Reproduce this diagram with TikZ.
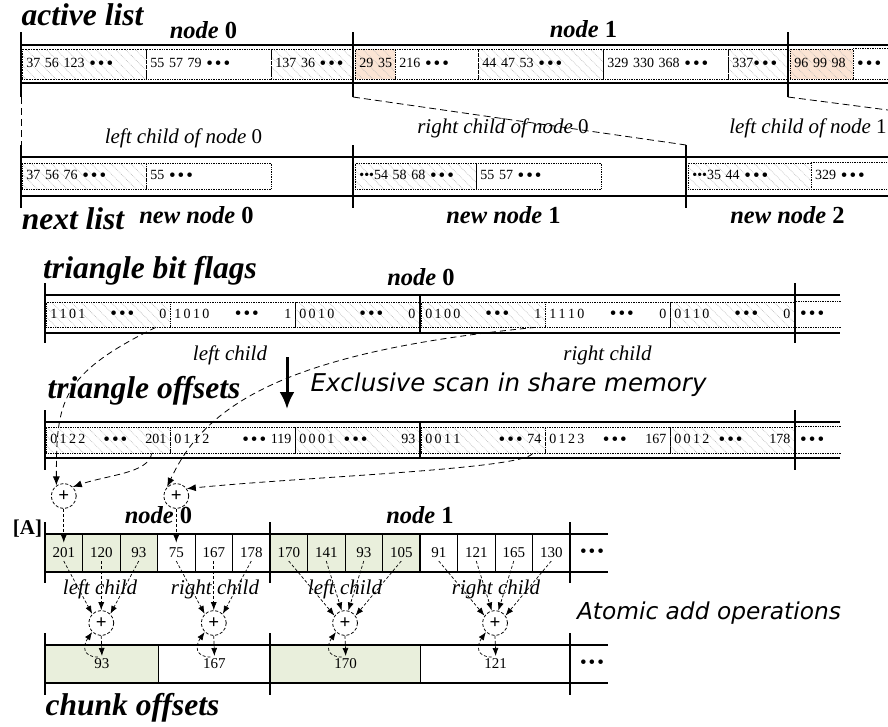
\documentclass[tikz,border=0pt]{standalone}
\usepackage{fontspec}
\setmainfont{Liberation Serif}
\newfontfamily\notefont{DejaVu Sans}
\usetikzlibrary{positioning,patterns.meta,arrows.meta}

\definecolor{peach}{RGB}{251,228,212}
\definecolor{sage}{RGB}{233,239,220}
\definecolor{hatchgray}{RGB}{186,186,186}

\newcommand{\ellip}{\raisebox{-1.5pt}{\fontsize{19}{19}\selectfont\textbullet\kern2pt\textbullet\kern2pt\textbullet}}
\newcommand{\dotrun}{\textbullet\textbullet\textbullet}

\begin{document}
\begin{tikzpicture}[x=1pt,y=1pt,
title/.style={font=\fontsize{31.5}{33}\selectfont\bfseries\itshape},
head/.style={font=\fontsize{24.5}{26}\selectfont\bfseries},
child/.style={font=\fontsize{21}{23}\selectfont\itshape},
note/.style={font=\notefont\itshape\fontsize{#1}{#1}\selectfont},
bar/.style={line width=2.8pt},
sep/.style={line width=2pt},
cellw/.code={\pgfmathsetmacro\cellwd{#1-8}\tikzset{text width=\cellwd pt}},
cellbox/.style 2 args={anchor=west,cellw=#1,minimum height=#2,inner xsep=4pt,inner ysep=0pt,
    text height=10pt,text depth=3pt,font=\fontsize{14}{16}\selectfont},
wcell/.style 2 args={cellbox={#1}{#2},draw,densely dotted,line width=0.7pt},
hcell/.style 2 args={wcell={#1}{#2},pattern={Lines[angle=-45,distance=7pt,line width=0.6pt]},pattern color=hatchgray},
ocell/.style 2 args={hcell={#1}{#2},preaction={fill=peach}},
ecell/.style 2 args={cellbox={#1}{#2}},
dline/.style={densely dotted,line width=0.7pt},
acell/.style={draw,line width=0.8pt,minimum width=37.5pt,minimum height=38pt,inner sep=0pt,font=\fontsize{15}{17}\selectfont},
kcell/.style={anchor=west,draw,line width=1.4pt,minimum height=38pt,inner sep=0pt,font=\fontsize{15}{17}\selectfont},
adder/.style={circle,draw,dash pattern=on 3pt off 2pt,line width=0.8pt,minimum size=25pt,inner sep=0pt,font=\fontsize{19}{19}\selectfont\bfseries},
link/.style={dash pattern=on 6pt off 4pt,line width=0.8pt,-{Latex[length=9pt,width=7pt]}},
feed/.style={dash pattern=on 3pt off 2pt,line width=0.7pt,-{Latex[length=8pt,width=6pt]}},
guide/.style={dash pattern=on 7pt off 4pt,line width=0.8pt}]
\useasboundingbox (0,0) rectangle (888,-726);
\clip (0,0) rectangle (888,-726);

% active list
\node[title] (tact) at (82.5,-15) {active list};
\node[head] (hact0) at (203.5,-30) {\textit{node} 0};
\node[head] (hact1) at (583.5,-29) {\textit{node} 1};
\node[hcell={124}{30}] (al1) at (22,-64) {37 56 123 \ellip};
\node[wcell={125}{30}] (al2) at (146,-64) {55 57 79 \ellip};
\node[hcell={81}{30}] (al3) at (271,-64) {137 36 \ellip};
\node[ocell={40}{30}] (al4) at (355,-64) {\mbox{29 35}};
\node[wcell={83}{30}] (al5) at (395,-64) {216 \ellip};
\node[hcell={125}{30}] (al6) at (478,-64) {44 47 53 \ellip};
\node[wcell={125}{30}] (al7) at (603,-64) {329 330 368 \ellip};
\node[hcell={62}{30}] (al8) at (728,-64) {337\ellip};
\node[ocell={63}{30}] (al9) at (790,-64) {96 99 98};
\node[ecell={40}{30}] (al10) at (853,-64) {\ellip};
\draw[dline] (al10.north west) -- (al10.north east) (al10.south west) -- (al10.south east);
\draw[bar] (21,-45) -- (888,-45) (21,-83) -- (888,-83);
\foreach \x [count=\i] in {21,353,788}
  \draw[bar] (\x,-32) -- (\x,-97) coordinate (ab\i);

% next list
\node[child] (lc0) at (183.5,-138.5) {left child of node \textup{0}};
\node[child] (rc0) at (503,-128) {right child of node \textup{0}};
\node[child] (lc1) at (808,-128) {left child of node \textup{1}};
\node[hcell={124}{26}] (nl1) at (22,-176) {37 56 76 \ellip};
\node[wcell={125}{26}] (nl2) at (146,-176) {55 \ellip};
\node[hcell={121}{26}] (nl3) at (355,-176) {\dotrun54 58 68 \ellip};
\node[wcell={125}{26}] (nl4) at (476,-176) {55 57 \ellip};
\node[hcell={123}{26}] (nl5) at (688,-176) {\dotrun35 44 \ellip};
\node[ecell={80}{26}] (nl6) at (811,-176) {329 \ellip};
\draw[dline] (nl6.north west) -- (nl6.north east) (nl6.south west) -- (nl6.south east);
\draw[bar] (21,-157) -- (888,-157) (21,-196) -- (888,-196);
\foreach \x [count=\i] in {21,353,686}
  \draw[bar] (\x,-145) coordinate (nt\i) -- (\x,-208);
\coordinate (nt5) at (1157,-145);
\draw[guide] (ab1) -- (nt1);
\draw[guide] (ab2) -- (nt3);
\draw[guide] (ab3) -- (nt5);
\node[title] (tnext) at (73,-219) {next list};
\node[head] (nn0) at (196.5,-215.5) {\textit{new node} 0};
\node[head] (nn1) at (503.5,-215.5) {\textit{new node} 1};
\node[head] (nn2) at (787.5,-215.5) {\textit{new node} 2};

% triangle bit flags
\node[title] (tflag) at (150,-271) {triangle bit flags};
\node[head] (hflag) at (421,-277) {\textit{node} 0};
\node[hcell={124}{25}] (f1) at (46,-314.5) {1\,1\,0\,1\hfill\ellip\hfill0\hspace*{6pt}};
\node[wcell={125}{25}] (f2) at (170,-314.5) {1\,0\,1\,0\hfill\ellip\hfill1\hspace*{6pt}};
\node[hcell={124}{25}] (f3) at (295,-314.5) {0\,0\,1\,0\hfill\ellip\hfill0\hspace*{6pt}};
\node[hcell={124}{25}] (f4) at (421,-314.5) {0\,1\,0\,0\hfill\ellip\hfill1\hspace*{6pt}};
\node[wcell={125}{25}] (f5) at (545,-314.5) {1\,1\,1\,0\hfill\ellip\hfill0\hspace*{4pt}};
\node[hcell={124}{25}] (f6) at (670,-314.5) {0\,1\,1\,0\hfill\ellip\hfill0\hspace*{3pt}};
\node[ecell={44}{25}] (f7) at (796,-314.5) {\ellip};
\draw[dline] (f7.north west) -- (f7.north east) (f7.south west) -- (f7.south east);
\draw[bar] (45,-295) -- (840,-295) (45,-333) -- (840,-333);
\draw[bar] (45,-283) -- (45,-343) (795,-283) -- (795,-343);
\draw[sep] (420,-295) -- (420,-333);
\node[child] (lcf) at (230,-355) {left child};
\node[child] (rcf) at (607.5,-355.5) {right child};

% exclusive scan
\coordinate (scanfrom) at (287,-357);
\coordinate (scanto) at (287,-409);
\draw[line width=3pt,-{Latex[length=17pt,width=15pt]}] (scanfrom) -- (scanto);
\node[note=24.5] (scan) at (508.5,-385) {Exclusive scan in share memory};

% triangle offsets
\node[title] (toff) at (144,-391) {triangle offsets};
\node[hcell={124}{26}] (o1) at (46,-440) {0\,1\,2\,2\hfill\ellip\hfill201\hspace*{4pt}};
\node[wcell={125}{26}] (o2) at (170,-440) {0\,1\,1\,2\hfill\ellip\ 119\hspace*{3pt}};
\node[hcell={124}{26}] (o3) at (295,-440) {0\,0\,0\,1\ \ \ellip\hfill93};
\node[hcell={124}{26}] (o4) at (421,-440) {0\,0\,1\,1\hfill\ellip\ 74\hspace*{4pt}};
\node[wcell={125}{26}] (o5) at (545,-440) {0\,1\,2\,3\hfill\ellip\hfill167\hspace*{4pt}};
\node[hcell={124}{26}] (o6) at (670,-440) {0\,0\,1\,2\ \ \ellip\hfill178\hspace*{3pt}};
\node[ecell={44}{26}] (o7) at (796,-440) {\ellip};
\draw[dline] (o7.north west) -- (o7.north east) (o7.south west) -- (o7.south east);
\draw[bar] (45,-422) -- (840,-422) (45,-458) -- (840,-458);
\draw[bar] (45,-410) -- (45,-470) (795,-410) -- (795,-470);
\draw[sep] (420,-422) -- (420,-458);

% per-chunk sums
\node[adder] (p1) at (63.75,-496) {+};
\node[adder] (p2) at (176.25,-496) {+};
\draw[link] ([xshift=-15pt]f1.south east) .. controls +(-95,-47) and +(0,85) .. (p1.125);
\draw[link] ([xshift=-19pt]o1.south east) .. controls +(-3,-20) and +(35,12) .. (p1.north east);
\draw[link] ([xshift=-10pt]f4.south east) .. controls +(-255,-25) and +(37,80) .. (p2.north west);
\draw[link] ([xshift=-13pt]o4.south east) .. controls +(-10,-16) and +(120,12) .. (p2.35);

% [A]
\node[font=\fontsize{21}{21}\selectfont\bfseries] (ta) at (27.5,-529) {[A]};
\node[head] (ha0) at (158.5,-515.5) {\textit{node} 0};
\node[head] (ha1) at (420,-515.5) {\textit{node} 1};
\fill[sage] (45,-534) rectangle (157.5,-572) (270,-534) rectangle (420,-572);
\foreach \v [count=\i] in {201,120,93,75,167,178,170,141,93,105,91,121,165,130}
  \node[acell] (a\i) at ({45+(\i-0.5)*37.5},-553) {\v};
\draw[line width=1.6pt] (157.5,-534) -- (157.5,-572) (420,-534) -- (420,-572);
\node (adots) at (592,-553) {\ellip};
\draw[bar] (45,-534) -- (608,-534) (45,-572) -- (608,-572);
\foreach \x in {45,270,570}
  \draw[bar] (\x,-522) -- (\x,-583);
\draw[feed] (p1.south) -- ([yshift=-9pt]a1.north);
\draw[feed] (p2.south) -- ([yshift=-9pt]a4.north);

% atomic adds
\foreach \x [count=\i] in {101.25,213.75,345,495}
  \node[adder] (s\i) at (\x,-623) {+};
\foreach \c/\s/\e in {1/1/135,2/1/90,3/1/45,4/2/135,5/2/90,6/2/45,
    7/3/145,8/3/105,9/3/75,10/3/35,11/4/145,12/4/105,13/4/75,14/4/35}
  \draw[feed] ([yshift=-8pt]a\c.center) -- (s\s.\e);
\node[child] (ca1) at (100,-589.5) {left child};
\node[child] (ca2) at (215,-589.5) {right child};
\node[child] (ca3) at (345,-589.5) {left child};
\node[child] (ca4) at (496,-589.5) {right child};
\node[note=23.3] (atom) at (709,-613) {Atomic add operations};

% chunk offsets
\node[kcell,fill=sage,minimum width=112.5pt] (k1) at (45,-664) {93};
\node[kcell,minimum width=112.5pt] (k2) at (157.5,-664) {167};
\node[kcell,fill=sage,minimum width=150pt] (k3) at (270,-664) {170};
\node[kcell,minimum width=150pt] (k4) at (420,-664) {121};
\node (kdots) at (592,-664) {\ellip};
\draw[bar] (45,-645) -- (608,-645) (45,-683) -- (608,-683);
\foreach \x in {45,270,570}
  \draw[bar] (\x,-633) -- (\x,-695);
\foreach \i in {1,...,4} {
  \draw[feed] (s\i.south) -- ([yshift=8pt]k\i.center);
  \draw[feed] ([xshift=-4pt,yshift=7pt]k\i.center) to[out=180,in=235,looseness=1.6] (s\i.south west);
}
\node[title] (tchunk) at (132.5,-707.5) {chunk offsets};
\end{tikzpicture}
\end{document}
